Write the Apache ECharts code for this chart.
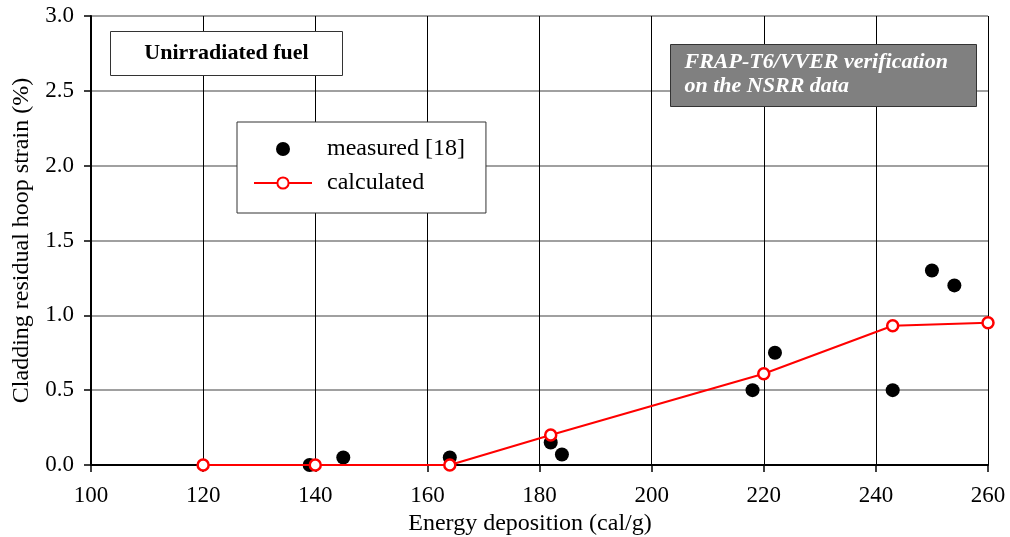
<!DOCTYPE html>
<html>
<head>
<meta charset="utf-8">
<script src="https://cdn.jsdelivr.net/npm/echarts@6/dist/echarts.min.js"></script>
<style>
  html, body { margin: 0; padding: 0; background: #fff; }
  #chart { width: 1010px; height: 537px; }
</style>
</head>
<body>
<div id="chart"></div>
<script>
// Residual hoop strain of unirradiated cladding vs. energy deposition
const measuredEnergy = [139, 145, 164, 182, 184, 218, 222, 243, 250, 254];
const measuredStrain = [0.0, 0.05, 0.05, 0.15, 0.07, 0.5, 0.75, 0.5, 1.3, 1.2];
const calcEnergy = [120, 140, 164, 182, 220, 243, 260];
const calcStrain = [0.0, 0.0, 0.0, 0.2, 0.61, 0.93, 0.95];

const xTicks = [100, 120, 140, 160, 180, 200, 220, 240, 260];
const yTicks = [0.0, 0.5, 1.0, 1.5, 2.0, 2.5, 3.0];

const serif = '"Liberation Serif", "DejaVu Serif", serif';

const chart = echarts.init(document.getElementById('chart'), null, { renderer: 'canvas' });

chart.setOption({
  animation: false,
  backgroundColor: '#ffffff',
  textStyle: { fontFamily: serif },
  grid: { left: 91, right: 22, top: 16, bottom: 72, containLabel: false, outerBoundsMode: 'none' },
  xAxis: {
    type: 'value',
    min: xTicks[0],
    max: xTicks[xTicks.length - 1],
    interval: 20,
    name: 'Energy deposition (cal/g)',
    nameLocation: 'middle',
    nameGap: 46,
    nameTextStyle: { fontFamily: serif, fontSize: 24, color: '#000', padding: [0, 19, 0, 0] },
    axisLine: { onZero: false, lineStyle: { color: '#000', width: 2 } },
    axisTick: { show: true, inside: false, length: 7, lineStyle: { color: '#000', width: 1.5 } },
    axisLabel: { fontFamily: serif, fontSize: 23, color: '#000', margin: 19 },
    splitLine: { show: true, lineStyle: { color: '#000', width: 1 } }
  },
  yAxis: {
    type: 'value',
    min: yTicks[0],
    max: yTicks[yTicks.length - 1],
    interval: 0.5,
    name: 'Cladding residual hoop strain (%)',
    nameLocation: 'middle',
    nameGap: 57,
    nameTextStyle: { fontFamily: serif, fontSize: 24, color: '#000' },
    axisLine: { onZero: false, lineStyle: { color: '#000', width: 2 } },
    axisTick: { show: true, inside: false, length: 7, lineStyle: { color: '#000', width: 1.5 } },
    axisLabel: {
      fontFamily: serif, fontSize: 23, color: '#000', margin: 17,
      formatter: v => v.toFixed(1)
    },
    splitLine: { show: true, lineStyle: { color: '#808080', width: 1.5 } }
  },
  legend: {
    show: true,
    orient: 'vertical',
    left: 237,
    top: 122,
    padding: [15, 21, 18, 16],
    itemGap: 10,
    itemWidth: 58,
    itemHeight: 14,
    backgroundColor: '#fff',
    borderColor: '#333',
    borderWidth: 1,
    borderRadius: 0,
    textStyle: { fontFamily: serif, fontSize: 24, color: '#000', padding: [0, 0, 0, 10] },
    data: [
      { name: 'measured [18]', icon: 'circle' },
      { name: 'calculated' }
    ]
  },
  graphic: [
    {
      type: 'group',
      left: 110,
      top: 31,
      z: 100,
      children: [
        {
          type: 'rect',
          z: 100,
          shape: { x: 0, y: 0, width: 232, height: 44 },
          style: { fill: '#fff', stroke: '#333', lineWidth: 1 }
        },
        {
          type: 'text',
          z: 101,
          x: 116, y: 22,
          style: {
            text: 'Unirradiated fuel',
            fontFamily: serif, fontSize: 22, fontWeight: 'bold',
            fill: '#000', align: 'center', verticalAlign: 'middle'
          }
        }
      ]
    },
    {
      type: 'group',
      left: 670,
      top: 44,
      z: 100,
      children: [
        {
          type: 'rect',
          z: 100,
          shape: { x: 0, y: 0, width: 306, height: 62 },
          style: { fill: '#808080', stroke: '#333', lineWidth: 1 }
        },
        {
          type: 'text',
          z: 101,
          x: 14, y: 18,
          style: {
            text: 'FRAP-T6/VVER verification',
            fontFamily: serif, fontSize: 22, fontWeight: 'bold', fontStyle: 'italic',
            fill: '#fff', align: 'left', verticalAlign: 'middle'
          }
        },
        {
          type: 'text',
          z: 101,
          x: 14, y: 42,
          style: {
            text: 'on the NSRR data',
            fontFamily: serif, fontSize: 22, fontWeight: 'bold', fontStyle: 'italic',
            fill: '#fff', align: 'left', verticalAlign: 'middle'
          }
        }
      ]
    }
  ],
  series: [
    {
      name: 'measured [18]',
      type: 'scatter',
      data: measuredEnergy.map((e, i) => [e, measuredStrain[i]]),
      symbol: 'circle',
      symbolSize: 14,
      itemStyle: { color: '#000', opacity: 1 },
      z: 3
    },
    {
      name: 'calculated',
      type: 'line',
      data: calcEnergy.map((e, i) => [e, calcStrain[i]]),
      symbol: 'circle',
      symbolSize: 11,
      showSymbol: true,
      lineStyle: { color: '#ff0000', width: 2 },
      itemStyle: { color: '#fff', borderColor: '#ff0000', borderWidth: 2.5 },
      z: 4
    }
  ]
});
</script>
</body>
</html>
